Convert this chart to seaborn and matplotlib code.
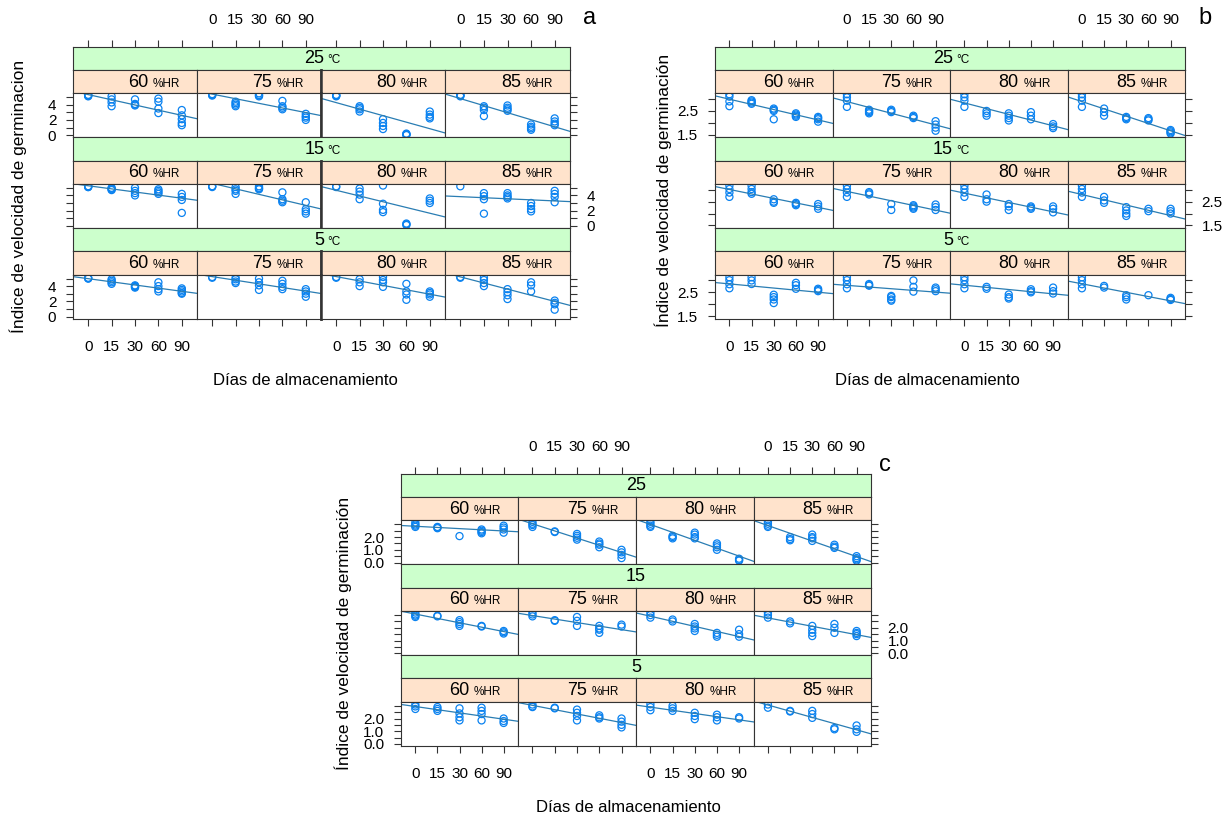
import numpy as np
import pandas as pd
import matplotlib
matplotlib.use('Agg')
import matplotlib.pyplot as plt
import seaborn as sns

W, H = 1227, 815

# ------------------------------------------------------------
# data: one list per storage day (0, 15, 30, 60, 90 days)
# ------------------------------------------------------------
DAYS = ['0', '15', '30', '60', '90']
HR = [60, 75, 80, 85]
TEMPS = [25, 15, 5]

a_25 = {
    60: [[5.3, 5.2, 5.2, 5.1], [5.1, 4.7, 4.3, 3.8], [4.7, 4.1, 4.0, 3.9], [4.8, 4.4, 3.5, 2.9], [3.3, 2.6, 2.1, 1.6, 1.3]],
    75: [[5.4, 5.3, 5.3, 5.2], [4.4, 4.2, 4.0, 3.8], [5.5, 5.3, 5.2, 5.1], [4.5, 3.8, 3.6, 3.4], [2.8, 2.5, 2.3, 2.0]],
    80: [[5.3, 5.2, 5.2, 5.1], [3.8, 3.6, 3.4, 3.1], [2.1, 1.6, 1.2, 0.8], [0.2, 0.1, 0.0, 0.1], [3.1, 2.7, 2.4, 2.2]],
    85: [[5.3, 5.2, 5.2, 5.1], [3.8, 3.6, 3.3, 2.5], [3.9, 3.6, 3.4, 3.2], [1.4, 1.1, 0.9, 0.7], [2.2, 1.8, 1.5, 1.3]],
}
a_15 = {
    60: [[5.2, 5.2, 5.1, 5.1], [5.0, 4.9, 4.8, 4.7], [5.0, 4.6, 4.3, 4.0], [4.8, 4.6, 4.4, 4.2], [4.2, 3.8, 3.4, 1.7]],
    75: [[5.2, 5.2, 5.1], [5.1, 4.8, 4.6, 4.2], [5.2, 5.0, 4.9, 4.8], [4.4, 3.5, 3.3, 3.1], [3.1, 2.2, 1.9, 1.6]],
    80: [[5.2, 5.1], [4.9, 4.5, 4.1, 3.5], [5.3, 2.9, 2.1, 1.8], [0.3, 0.2, 0.1], [3.6, 3.3, 3.0]],
    85: [[5.2], [4.3, 3.9, 3.5, 1.6], [4.3, 4.0, 3.8, 3.6], [3.0, 2.6, 2.2, 1.9], [4.6, 4.2, 3.8, 3.1]],
}
a_5 = {
    60: [[5.1, 5.0, 5.0], [4.9, 4.7, 4.5, 4.3], [4.1, 4.0, 3.9, 3.8], [4.5, 4.0, 3.6, 3.3], [3.7, 3.5, 3.3, 3.1, 3.0]],
    75: [[5.2, 5.1], [5.1, 4.9, 4.6, 4.4], [5.0, 4.5, 4.1, 3.5], [4.7, 4.3, 3.9, 3.6], [3.6, 3.3, 3.0, 2.6]],
    80: [[5.2, 5.1], [4.9, 4.5, 4.0], [5.2, 4.8, 4.5, 3.9], [4.3, 3.3, 2.9, 2.2], [3.3, 3.1, 2.9, 2.6]],
    85: [[5.2, 5.1], [5.1, 4.8, 4.4, 4.0], [3.6, 3.2, 2.8, 2.3], [4.5, 4.1, 3.3], [2.1, 1.8, 1.6, 0.9]],
}

b_25 = {
    60: [[3.2, 3.1, 2.9, 2.7], [2.95, 2.9, 2.85, 2.8], [2.6, 2.55, 2.5, 2.15], [2.4, 2.35, 2.3, 2.25], [2.25, 2.2, 2.15, 2.05]],
    75: [[3.2, 3.07, 2.93, 2.67], [2.55, 2.5, 2.45, 2.4], [2.55, 2.5, 2.45], [2.3, 2.25, 2.2], [2.07, 1.93, 1.8, 1.67]],
    80: [[3.2, 3.07, 2.93, 2.67], [2.5, 2.4, 2.3], [2.4, 2.3, 2.2, 2.1], [2.45, 2.3, 2.15], [1.95, 1.85, 1.78]],
    85: [[3.2, 3.07, 2.93, 2.67], [2.6, 2.45, 2.3], [2.25, 2.2, 2.15], [2.2, 2.15, 2.1], [1.7, 1.65, 1.6, 1.55]],
}
b_15 = {
    60: [[3.17, 3.03, 2.88, 2.7], [3.17, 3.03, 2.9, 2.83], [2.6, 2.5, 2.45], [2.45, 2.4, 2.35], [2.4, 2.3, 2.2]],
    75: [[3.17, 3.03, 2.88, 2.7], [2.9, 2.85, 2.8], [2.4, 2.15], [2.35, 2.3, 2.25, 2.2], [2.38, 2.27, 2.15]],
    80: [[3.17, 3.03, 2.88, 2.7], [2.8, 2.6, 2.5], [2.4, 2.3, 2.15], [2.3, 2.25, 2.2], [2.3, 2.2, 2.05]],
    85: [[3.17, 3.03, 2.88, 2.7], [2.7, 2.55, 2.45], [2.27, 2.13, 2.0, 1.9], [2.2, 2.1], [2.2, 2.1, 2.0]],
}
b_5 = {
    60: [[3.13, 3.01, 2.84, 2.67], [3.13, 3.0, 2.85], [2.4, 2.3, 2.2, 2.05], [2.9, 2.8, 2.65], [2.65, 2.6, 2.55]],
    75: [[3.13, 3.01, 2.84, 2.67], [2.85, 2.8, 2.78], [2.35, 2.3, 2.2, 2.15], [3.0, 2.73, 2.53], [2.7, 2.63, 2.55]],
    80: [[3.13, 3.01, 2.84, 2.67], [2.73, 2.65], [2.41, 2.3, 2.24], [2.63, 2.55, 2.5], [2.7, 2.55, 2.45]],
    85: [[3.13, 3.01, 2.84, 2.67], [2.77, 2.7], [2.38, 2.3, 2.2], [2.38], [2.27, 2.22, 2.18]],
}

c_25 = {
    60: [[3.15, 3.0, 2.9, 2.8], [2.8, 2.75, 2.7], [2.08], [2.6, 2.5, 2.4, 2.3], [2.9, 2.75, 2.6, 2.35]],
    75: [[3.2, 3.05, 2.95, 2.8], [2.45, 2.4], [2.25, 2.1, 1.95, 1.8], [1.65, 1.5, 1.4, 1.2], [1.0, 0.8, 0.6, 0.35]],
    80: [[3.2, 3.05, 2.9, 2.8], [2.1, 2.0, 1.9], [2.35, 2.2, 2.0, 1.9], [1.5, 1.35, 1.2, 1.0], [0.3, 0.2, 0.15]],
    85: [[3.2, 3.05, 2.9, 2.8], [2.0, 1.85, 1.75], [2.2, 2.0, 1.9, 1.7], [1.4, 1.25, 1.15], [0.5, 0.35, 0.25, 0.15]],
}
c_15 = {
    60: [[3.2, 3.05, 2.95, 2.85], [2.95, 2.9], [2.6, 2.45, 2.3, 2.15], [2.15, 2.1], [1.75, 1.65, 1.55]],
    75: [[3.2, 3.05, 2.9], [2.6, 2.55], [2.85, 2.55, 2.15], [2.15, 1.95, 1.85, 1.6], [2.25, 2.1]],
    80: [[3.2, 3.0, 2.8], [2.65, 2.5], [2.3, 2.1, 1.95, 1.75], [1.6, 1.45, 1.3], [1.85, 1.5, 1.3]],
    85: [[3.2, 3.0, 2.8], [2.5, 2.35], [2.15, 1.85, 1.6, 1.35], [2.3, 2.0, 1.6], [1.75, 1.6, 1.5, 1.35]],
}
c_5 = {
    60: [[3.1, 2.95, 2.75], [2.9, 2.75, 2.6], [2.8, 2.4, 2.1, 1.85], [2.85, 2.6, 2.35, 1.85], [2.0, 1.8, 1.65]],
    75: [[3.1, 2.95, 2.9], [2.85, 2.8], [2.7, 2.45, 2.2, 1.85], [2.25, 2.1, 2.0], [2.0, 1.75, 1.5, 1.3]],
    80: [[3.12, 2.9, 2.65], [3.0, 2.8, 2.6], [2.45, 2.2, 1.95], [2.3, 2.1, 1.85], [2.1, 2.0]],
    85: [[3.1, 2.85], [2.6, 2.55], [2.6, 2.35, 2.05], [1.25, 1.15], [1.45, 1.15, 0.95]],
}

# long table for seaborn
records = []
for panel, blocks in [('a', [a_25, a_15, a_5]), ('b', [b_25, b_15, b_5]), ('c', [c_25, c_15, c_5])]:
    for temp, block in zip(TEMPS, blocks):
        for hr, per_day in block.items():
            for i, vals in enumerate(per_day):
                for v in vals:
                    records.append((panel, temp, hr, i + 1, v))
df = pd.DataFrame(records, columns=['panel', 'temp', 'hr', 'pos', 'value'])

# ------------------------------------------------------------
# style
# ------------------------------------------------------------
plt.rcParams['font.family'] = ['Liberation Sans', 'DejaVu Sans']
GREEN = '#ccffcc'
ORANGE = '#ffe3cc'
EDGE = '#333333'
PT_COL = '#0a82f0'
LINE_COL = '#2a7db3'
XLIM = (0.35, 5.65)
STRIP_H = 23.3
ROW_H = 90.7

fig = plt.figure(figsize=(W / 100, H / 100), dpi=100)


def px_axes(x0, y0, x1, y1):
    return fig.add_axes([x0 / W, 1 - y1 / H, (x1 - x0) / W, (y1 - y0) / H])


def px_text(x, y, s, **kw):
    fig.text(x / W, 1 - y / H, s, **kw)


def strip_style(ax, color):
    ax.set_facecolor(color)
    ax.set_xticks([])
    ax.set_yticks([])
    for sp in ax.spines.values():
        sp.set_color(EDGE)
        sp.set_linewidth(0.8)


TICK_KW = dict(direction='out', length=5, width=0.8, color=EDGE, labelsize=11)


def draw_panel(letter, cols, top, ylim, yticks, ylabels, unit, ylab,
               xlab_x, ylab_x, ylab_y, letter_xy, thick=False):
    left, right = cols[0], cols[-1]
    for r, temp in enumerate(TEMPS):
        yg = top + r * ROW_H
        g = px_axes(left, yg, right, yg + STRIP_H)
        strip_style(g, GREEN)
        yb = yg + STRIP_H / 2 + 5
        xc = (left + right) / 2
        if unit:
            px_text(xc + 3, yb, str(temp), ha='right', va='baseline', fontsize=13)
            px_text(xc + 6, yb, unit, ha='left', va='baseline', fontsize=8.5)
        else:
            px_text(xc, yb, str(temp), ha='center', va='baseline', fontsize=13)

        for c, hr in enumerate(HR):
            x0, x1 = cols[c], cols[c + 1]
            o = px_axes(x0, yg + STRIP_H, x1, yg + 2 * STRIP_H)
            strip_style(o, ORANGE)
            ob = yg + 1.5 * STRIP_H + 5
            px_text(x1 - 17, ob, '%HR', ha='right', va='baseline', fontsize=8.5)
            px_text(x1 - 49, ob, str(hr), ha='right', va='baseline', fontsize=13)

            ax = px_axes(x0, yg + 2 * STRIP_H, x1, yg + ROW_H)
            sub = df[(df.panel == letter) & (df.temp == temp) & (df.hr == hr)]
            ax.set_xlim(XLIM)
            ax.set_ylim(ylim)
            sns.regplot(data=sub, x='pos', y='value', ax=ax, ci=None, truncate=False,
                        marker='o',
                        scatter_kws=dict(s=26, facecolors='none', edgecolors=PT_COL,
                                         linewidths=0.9, alpha=1),
                        line_kws=dict(color=LINE_COL, lw=0.9))
            ax.set_xlim(XLIM)
            ax.set_ylim(ylim)
            ax.set_xlabel('')
            ax.set_ylabel('')
            for sp in ax.spines.values():
                sp.set_color(EDGE)
                sp.set_linewidth(0.8)
            if thick and c == 1:
                ax.spines['right'].set_linewidth(1.8)
                o.spines['right'].set_linewidth(1.8)
            if thick and c == 2:
                ax.spines['left'].set_linewidth(1.8)
                o.spines['left'].set_linewidth(1.8)

            ax.set_xticks(range(1, 6))
            ax.set_xticklabels(DAYS)
            ax.tick_params(axis='x', bottom=(r == 2), top=False, pad=10,
                           labelbottom=(r == 2 and c in (0, 2)), **TICK_KW)
            ax.set_yticks(yticks)
            ax.set_yticklabels(ylabels)
            ax.tick_params(axis='y', left=(c == 0), right=(c == 3), pad=7,
                           labelleft=(c == 0 and r != 1),
                           labelright=(c == 3 and r == 1), **TICK_KW)

            if r == 0:
                t = px_axes(x0, yg, x1, yg + 2 * STRIP_H)
                t.patch.set_visible(False)
                for sp in t.spines.values():
                    sp.set_visible(False)
                t.set_xlim(XLIM)
                t.set_xticks(range(1, 6))
                t.set_xticklabels(DAYS)
                t.set_yticks([])
                t.tick_params(axis='x', top=True, bottom=False, pad=9,
                              labeltop=(c in (1, 3)), labelbottom=False, **TICK_KW)

    px_text(xlab_x, top + 3 * ROW_H + 62, 'Días de almacenamiento',
            ha='center', va='center', fontsize=12)
    px_text(ylab_x, ylab_y, ylab, ha='center', va='center', rotation=90, fontsize=12.5)
    px_text(letter_xy[0], letter_xy[1], letter, ha='center', va='center', fontsize=17)


A_TICKS = [0, 1, 2, 3, 4, 5]
A_LABELS = ['0', '', '2', '', '4', '']
B_TICKS = [1.5, 2.0, 2.5, 3.0]
B_LABELS = ['1.5', '', '2.5', '']
C_TICKS = [0.0, 0.5, 1.0, 1.5, 2.0, 2.5, 3.0]
C_LABELS = ['0.0', '', '1.0', '', '2.0', '', '']

draw_panel('a', [73, 197, 321, 445, 570], 46.7, (-0.3, 5.5), A_TICKS, A_LABELS, '°C',
           'Índice de velocidad de germinacion', 305, 18, 196, (590, 18), thick=True)
draw_panel('b', [715, 832.5, 950, 1067.5, 1185], 46.7, (1.39, 3.24), B_TICKS, B_LABELS, '°C',
           'Índice de velocidad de germinación', 927, 663, 190, (1205, 18))
draw_panel('c', [401, 518, 636, 753.5, 871], 473.6, (-0.14, 3.33), C_TICKS, C_LABELS, None,
           'Índice de velocidad de germinación', 628, 343, 633, (885, 465))

fig.savefig('out.png', dpi=100)
